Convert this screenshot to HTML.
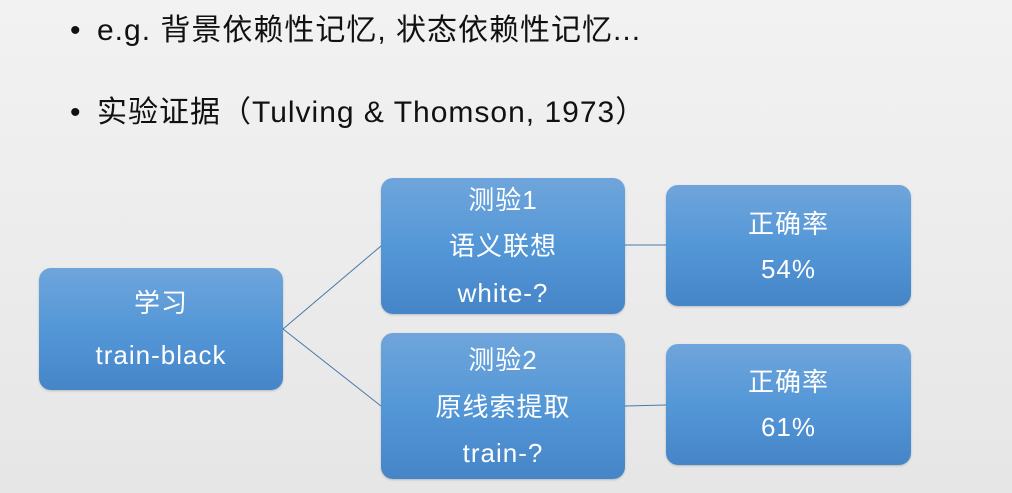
<!DOCTYPE html>
<html><head><meta charset="utf-8"><style>
body{margin:0;width:1012px;height:493px;overflow:hidden;background:linear-gradient(#f2f2f2,#e6e6e6);font-family:"Liberation Sans","Noto Sans CJK SC",sans-serif;position:relative}
.t{position:absolute;left:70px;font-size:30px;letter-spacing:1px;color:#111;white-space:nowrap}
.t span{display:inline-block;width:27px}
.b{position:absolute;border-radius:12px;background:linear-gradient(#6fa5db,#5497d7 50%,#4585c8);color:#fff;font-size:26px;letter-spacing:1px;text-align:center;box-shadow:0 1px 2px rgba(0,0,0,.2)}
.b div{position:absolute;left:0;right:0;line-height:30px}
</style></head><body>
<div class="t" style="top:5px"><span>•</span>e.g. 背景依赖性记忆, 状态依赖性记忆...</div>
<div class="t" style="top:87px"><span>•</span>实验证据（Tulving &amp; Thomson, 1973）</div>
<svg width="1012" height="493" style="position:absolute;left:0;top:0">
<g stroke="#4a78a8" stroke-width="1" fill="none">
<line x1="283" y1="329" x2="381" y2="246"/><line x1="283" y1="329" x2="381" y2="406"/>
<line x1="625" y1="245" x2="666" y2="245"/><line x1="625" y1="406" x2="666" y2="405"/>
</g></svg>
<div class="b" style="left:39px;top:268px;width:244px;height:122px"><div style="top:20px">学习</div><div style="top:72px">train-black</div></div>
<div class="b" style="left:381px;top:178px;width:244px;height:136px"><div style="top:7px">测验1</div><div style="top:53px">语义联想</div><div style="top:100px">white-?</div></div>
<div class="b" style="left:381px;top:333px;width:244px;height:146px"><div style="top:12px">测验2</div><div style="top:59px">原线索提取</div><div style="top:105px">train-?</div></div>
<div class="b" style="left:666px;top:185px;width:245px;height:121px"><div style="top:24px">正确率</div><div style="top:69px">54%</div></div>
<div class="b" style="left:666px;top:344px;width:245px;height:121px"><div style="top:23px">正确率</div><div style="top:68px">61%</div></div>
</body></html>
